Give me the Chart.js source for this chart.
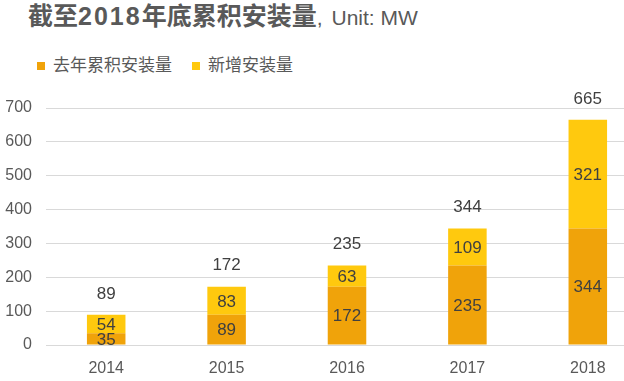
<!DOCTYPE html>
<html><head><meta charset="utf-8">
<script src="https://cdn.jsdelivr.net/npm/chart.js@4/dist/chart.umd.min.js"></script>
<style>
html,body{margin:0;padding:0;background:#fff;overflow:hidden;width:624px;height:381px;}
body{position:relative;font-family:"Liberation Sans","Noto Sans CJK SC",sans-serif;}
#title{position:absolute;left:28px;top:0px;height:32px;line-height:32px;color:#595959;white-space:nowrap;}
#title b{font-size:25px;font-weight:bold;}
#title b i{font-style:normal;letter-spacing:2px;}
#title span{font-size:21px;font-weight:normal;}
#title span em{font-style:normal;margin-left:9px;}
#legend{position:absolute;left:37px;top:54px;height:24px;line-height:24px;font-size:17px;color:#595959;white-space:nowrap;}
#legend .it{display:inline-block;margin-right:20px;}
#legend .sw{display:inline-block;width:8px;height:8px;margin-right:8px;vertical-align:1px;}
#wrap{position:absolute;left:0;top:0;width:650px;height:381px;}
</style></head>
<body>
<div id="title"><b>截至<i>2018</i>年底累积安装量</b><span>,<em>Unit: MW</em></span></div>
<div id="legend"></div>
<div id="wrap"><canvas id="c" width="650" height="381"></canvas></div>
<script>
const categories = ["2014","2015","2016","2017","2018"];
const seriesNames = ["去年累积安装量","新增安装量"];
const prevCumulative = [35, 89, 172, 235, 344];
const newInstalled = [54, 83, 63, 109, 321];
const totals = [89, 172, 235, 344, 665];
const yTicks = [0,100,200,300,400,500,600,700];
const colors = ["#F0A30A","#FFC90E"];

const lg = document.getElementById('legend');
seriesNames.forEach((n,i)=>{
  const d=document.createElement('span');d.className='it';
  d.innerHTML='<span class="sw" style="background:'+colors[i]+'"></span>'+n;
  lg.appendChild(d);
});

const labelPlugin = {
  id:'labels',
  afterDatasetsDraw(chart){
    const ctx=chart.ctx;
    ctx.save();
    ctx.font='17px "Liberation Sans","Noto Sans CJK SC",sans-serif';
    ctx.fillStyle='#404040';
    ctx.textAlign='center';ctx.textBaseline='middle';
    chart.data.datasets.forEach((ds,di)=>{
      const meta=chart.getDatasetMeta(di);
      meta.data.forEach((bar,i)=>{
        const yc=(bar.y+bar.base)/2;
        ctx.fillText(String(ds.data[i]),bar.x,yc+1);
      });
    });
    const top=chart.getDatasetMeta(1);
    top.data.forEach((bar,i)=>{
      const y=chart.scales.y.getPixelForValue(totals[i]);
      ctx.fillText(String(totals[i]),bar.x,y-21);
    });
    ctx.restore();
  }
};

new Chart(document.getElementById('c'),{
  type:'bar',
  data:{labels:categories,datasets:[
    {label:seriesNames[0],data:prevCumulative,backgroundColor:colors[0],categoryPercentage:1,barPercentage:0.32},
    {label:seriesNames[1],data:newInstalled,backgroundColor:colors[1],categoryPercentage:1,barPercentage:0.32}
  ]},
  options:{
    responsive:false,animation:false,
    layout:{padding:{top:108,left:0,right:2,bottom:0}},
    plugins:{legend:{display:false},tooltip:{enabled:false}},
    scales:{
      x:{stacked:true,grid:{display:false},border:{color:'#d9d9d9'},
        ticks:{color:'#595959',font:{size:16,family:'"Liberation Sans",sans-serif'},padding:6},
        afterFit(s){s.height=36;}},
      y:{stacked:true,min:0,max:700,
        afterBuildTicks(s){s.ticks=yTicks.map(v=>({value:v}));},
        grid:{color:'#d9d9d9',drawTicks:false},border:{display:false},
        ticks:{color:'#595959',font:{size:16,family:'"Liberation Sans",sans-serif'},padding:14},
        afterFit(s){s.width=46;}}
    }
  },
  plugins:[labelPlugin]
});
</script>
</body></html>
